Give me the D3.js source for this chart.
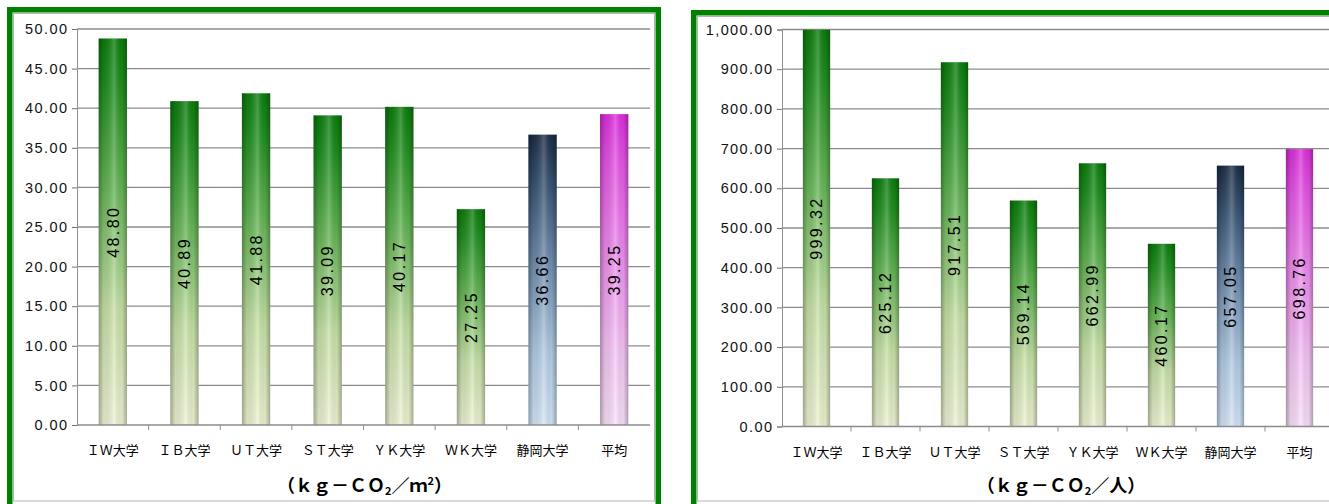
<!DOCTYPE html>
<html>
<head>
<meta charset="utf-8">
<script src="https://cdn.jsdelivr.net/npm/d3@7"></script>
<style>
  body { margin: 0; background: #fff; }
  svg { display: block; }
  .tick text { font-family: "Liberation Sans", Arial, sans-serif; }
</style>
</head>
<body>
<div id="chart"></div>
<script>
// universities compared (last one is the average)
var categories = ['ＩＷ大学', 'ＩＢ大学', 'ＵＴ大学', 'ＳＴ大学', 'ＹＫ大学', 'ＷＫ大学', '静岡大学', '平均'];
// kg-CO2 per m2
var perArea = [48.80, 40.89, 41.88, 39.09, 40.17, 27.25, 36.66, 39.25];
// kg-CO2 per person
var perPerson = [999.32, 625.12, 917.51, 569.14, 662.99, 460.17, 657.05, 698.76];
var areaTicks = [0, 5, 10, 15, 20, 25, 30, 35, 40, 45, 50];
var personTicks = [0, 100, 200, 300, 400, 500, 600, 700, 800, 900, 1000];
// which colour ramp each bar uses
var barKinds = ['green', 'green', 'green', 'green', 'green', 'green', 'blue', 'pink'];

var width = 1329, height = 504;

var svg = d3.select('#chart').append('svg')
    .attr('width', width)
    .attr('height', height);

var defs = svg.append('defs');

var ramps = {
  green: [['0%', '#0c7e0c'], ['12%', '#1f8f1f'], ['40%', '#6ab85a'], ['70%', '#c8e2a8'], ['100%', '#eef4d4']],
  blue:  [['0%', '#1c2d47'], ['15%', '#34506f'], ['45%', '#7391b2'], ['75%', '#b3cde6'], ['100%', '#d4e6f8']],
  pink:  [['0%', '#de2ede'], ['15%', '#e653e6'], ['45%', '#f08ef0'], ['75%', '#f6c4f6'], ['100%', '#fae2fa']]
};

Object.keys(ramps).forEach(function(k) {
  var g = defs.append('linearGradient')
      .attr('id', 'grad-' + k)
      .attr('x1', 0).attr('y1', 0).attr('x2', 0).attr('y2', 1);
  ramps[k].forEach(function(s) {
    g.append('stop').attr('offset', s[0]).attr('stop-color', s[1]);
  });
});

// horizontal shading so the bars look like cylinders
var cyl = defs.append('linearGradient')
    .attr('id', 'cyl')
    .attr('x1', 0).attr('y1', 0).attr('x2', 1).attr('y2', 0);
[['0%', '#000', 0.32], ['18%', '#000', 0.08], ['55%', '#fff', 0.22], ['82%', '#000', 0.05], ['100%', '#000', 0.3]]
  .forEach(function(s) {
    cyl.append('stop').attr('offset', s[0]).attr('stop-color', s[1]).attr('stop-opacity', s[2]);
  });

function drawFrame(x, y, w, h) {
  svg.append('rect')
    .attr('x', x).attr('y', y).attr('width', w).attr('height', h)
    .attr('fill', '#008000');
  svg.append('rect')
    .attr('x', x + 5.5).attr('y', y + 5.5).attr('width', w - 11).attr('height', h - 11)
    .attr('fill', '#fff');
  svg.append('rect')
    .attr('x', x + 6.5).attr('y', y + 6.5).attr('width', w - 13).attr('height', 494.5 - y)
    .attr('fill', 'none')
    .attr('stroke', '#b4b4b4')
    .attr('stroke-width', 1);
}

function drawChart(values, ticks, maxVal, box, unit) {
  var g = svg.append('g');

  var x = d3.scaleBand()
    .domain(categories)
    .range([box.left, box.right])
    .padding(0);

  var y = d3.scaleLinear()
    .domain([0, maxVal])
    .range([box.bottom, box.top]);

  var fmt = d3.format(',.2f');

  // gridlines
  g.selectAll('line.grid')
    .data(ticks.slice(1))
    .enter().append('line')
    .attr('class', 'grid')
    .attr('x1', box.left).attr('x2', box.right)
    .attr('y1', function(d) { return y(d); })
    .attr('y2', function(d) { return y(d); })
    .attr('stroke', '#8c8c8c')
    .attr('stroke-width', 1.3);

  var barW = x.bandwidth() * 0.395;

  var bar = g.selectAll('g.bar')
    .data(values)
    .enter().append('g')
    .attr('class', 'bar');

  bar.append('rect')
    .attr('x', function(d, i) { return x(categories[i]) + x.bandwidth() / 2 - barW / 2; })
    .attr('y', function(d) { return y(d); })
    .attr('width', barW)
    .attr('height', function(d) { return y(0) - y(d); })
    .attr('fill', function(d, i) { return 'url(#grad-' + barKinds[i] + ')'; });

  bar.append('rect')
    .attr('x', function(d, i) { return x(categories[i]) + x.bandwidth() / 2 - barW / 2; })
    .attr('y', function(d) { return y(d); })
    .attr('width', barW)
    .attr('height', function(d) { return y(0) - y(d); })
    .attr('fill', 'url(#cyl)');

  bar.append('text')
    .text(function(d) { return fmt(d); })
    .attr('transform', function(d, i) {
      var cx = x(categories[i]) + x.bandwidth() / 2;
      var cy = (y(d) + y(0)) / 2;
      return 'translate(' + (cx + 5.8) + ',' + cy + ') rotate(-90)';
    })
    .attr('text-anchor', 'middle')
    .attr('font-family', '"Liberation Sans", Arial, sans-serif')
    .attr('font-size', 16)
    .attr('letter-spacing', 2.4)
    .attr('fill', '#000');

  // y axis
  var yAxis = g.append('g')
    .attr('transform', 'translate(' + box.left + ',0)')
    .call(d3.axisLeft(y).tickValues(ticks).tickSize(5).tickPadding(5).tickFormat(fmt));
  yAxis.select('.domain').attr('stroke', '#909090');
  yAxis.selectAll('.tick line').attr('stroke', '#707070');
  yAxis.selectAll('.tick text')
    .attr('font-size', 14.5)
    .attr('letter-spacing', 1.4)
    .attr('dx', 1.4)
    .attr('fill', '#111');

  // x axis: line plus ticks at category boundaries
  g.append('line')
    .attr('x1', box.left).attr('x2', box.right)
    .attr('y1', y(0)).attr('y2', y(0))
    .attr('stroke', '#8c8c8c')
    .attr('stroke-width', 1.3);

  g.selectAll('line.xtick')
    .data(categories.slice(1))
    .enter().append('line')
    .attr('class', 'xtick')
    .attr('x1', function(d) { return x(d); })
    .attr('x2', function(d) { return x(d); })
    .attr('y1', y(0)).attr('y2', y(0) + 5)
    .attr('stroke', '#909090');

  g.selectAll('text.xlab')
    .data(categories)
    .enter().append('text')
    .attr('class', 'xlab')
    .text(function(d) { return d; })
    .attr('x', function(d) { return x(d) + x.bandwidth() / 2; })
    .attr('y', y(0) + 30)
    .attr('text-anchor', 'middle')
    .attr('font-family', '"Noto Sans CJK JP", sans-serif')
    .attr('font-size', 13)
    .attr('fill', '#000');

  // unit caption
  var cap = g.append('text')
    .attr('x', (box.left + box.right) / 2 + box.capShift)
    .attr('y', 492)
    .attr('text-anchor', 'middle')
    .attr('font-family', '"Noto Sans CJK JP", sans-serif')
    .attr('font-weight', 'bold')
    .attr('font-size', 18)
    .attr('fill', '#000');
  cap.append('tspan').text('（ｋｇ－ＣＯ');
  cap.append('tspan').text('2').attr('font-size', 11).attr('dy', 3);
  cap.append('tspan').text('／' + unit.base).attr('dy', -3);
  if (unit.sup) {
    cap.append('tspan').text(unit.sup).attr('font-size', 11).attr('dy', -7);
    cap.append('tspan').text('）').attr('dy', 7);
  } else {
    cap.append('tspan').text('）');
  }
}

drawFrame(7, 7, 654, 520);
drawFrame(691, 10, 660, 520);

drawChart(perArea, areaTicks, 50,
  { left: 77, right: 650, top: 29, bottom: 425, capShift: 1 },
  { base: 'ｍ', sup: '2' });

drawChart(perPerson, personTicks, 1000,
  { left: 782, right: 1334, top: 29.5, bottom: 426.5, capShift: 3 },
  { base: '人', sup: null });
</script>
</body>
</html>
